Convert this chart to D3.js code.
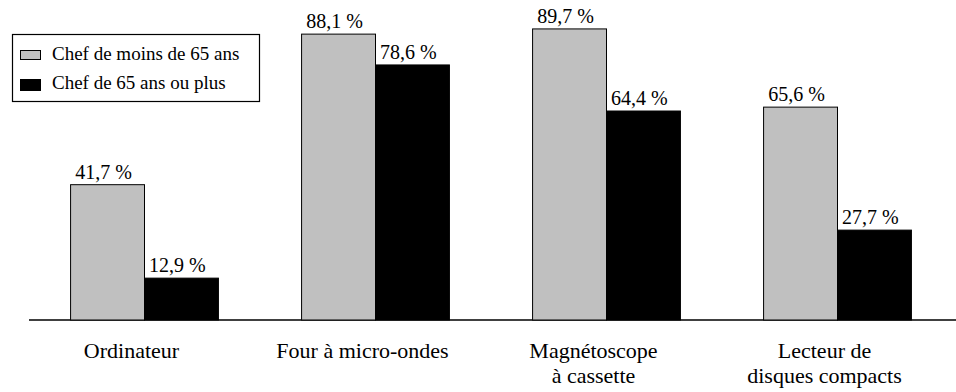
<!DOCTYPE html>
<html><head><meta charset="utf-8">
<script src="https://cdn.jsdelivr.net/npm/d3@7"></script>
</head>
<body style="margin:0">
<svg id="chart" width="956" height="392"></svg>
<script>
const categories = [["Ordinateur"], ["Four à micro-ondes"], ["Magnétoscope", "à cassette"], ["Lecteur de", "disques compacts"]];
const seriesNames = ["Chef de moins de 65 ans", "Chef de 65 ans ou plus"];
const under65 = [41.7, 88.1, 89.7, 65.6];
const over65 = [12.9, 78.6, 64.4, 27.7];
const seriesColors = ["#c0c0c0", "#000000"];

const svg = d3.select("#chart");
const fmt = v => d3.format(".1f")(v).replace(".", ",") + " %";

const x = d3.scaleBand().domain(d3.range(categories.length)).range([29, 953]).paddingInner(0.36).paddingOuter(0.18);
const x1 = d3.scaleBand().domain([0, 1]).range([0, x.bandwidth()]);
const y = d3.scaleLinear().domain([0, 100]).range([320, -4.5]);

const series = [under65, over65];

function txt(g, px, py, s, size, anchor) {
  const t = g.append("text")
    .attr("x", px).attr("y", py)
    .attr("font-size", size)
    .style("font-family", `"Liberation Serif"`)
    .text(s);
  if (anchor !== "start") t.attr("text-anchor", "middle");
  return t;
}

// baseline axis
const axis = d3.axisBottom(x).tickSize(0).tickFormat("");
const ag = svg.append("g").attr("transform", `translate(0,${y(0)})`).call(axis);
ag.select(".domain").attr("stroke", "#000").attr("stroke-width", 1.6).attr("d", "M29,0H956");

series.forEach((vals, si) => {
  vals.forEach((v, i) => {
    const bx = x(i) + x1(si);
    svg.append("rect")
      .attr("x", bx).attr("y", y(v))
      .attr("width", x1.bandwidth()).attr("height", y(0) - y(v))
      .attr("fill", seriesColors[si])
      .attr("stroke", "#000").attr("stroke-width", 1);
    txt(svg, bx + x1.bandwidth() / 2 - 4, y(v) - 6, fmt(v), 20);
  });
});

categories.forEach((lines, i) => {
  const cx = x(i) + x.bandwidth() / 2 - 13;
  lines.forEach((l, li) => txt(svg, cx, 358 + li * 25, l, 22));
});

// legend
svg.append("rect").attr("x", 12.5).attr("y", 34.5).attr("width", 247).attr("height", 67)
  .attr("fill", "#fff").attr("stroke", "#000").attr("stroke-width", 1.2);
const swY = [50, 79], swH = [9, 11], txtY = [60, 89];
seriesNames.forEach((n, si) => {
  svg.append("rect").attr("x", 20.5).attr("y", swY[si] + 0.5).attr("width", 20).attr("height", swH[si])
    .attr("fill", seriesColors[si]).attr("stroke", "#000").attr("stroke-width", 1);
  txt(svg, 52, txtY[si], n, 19, "start");
});
</script>
</body></html>
